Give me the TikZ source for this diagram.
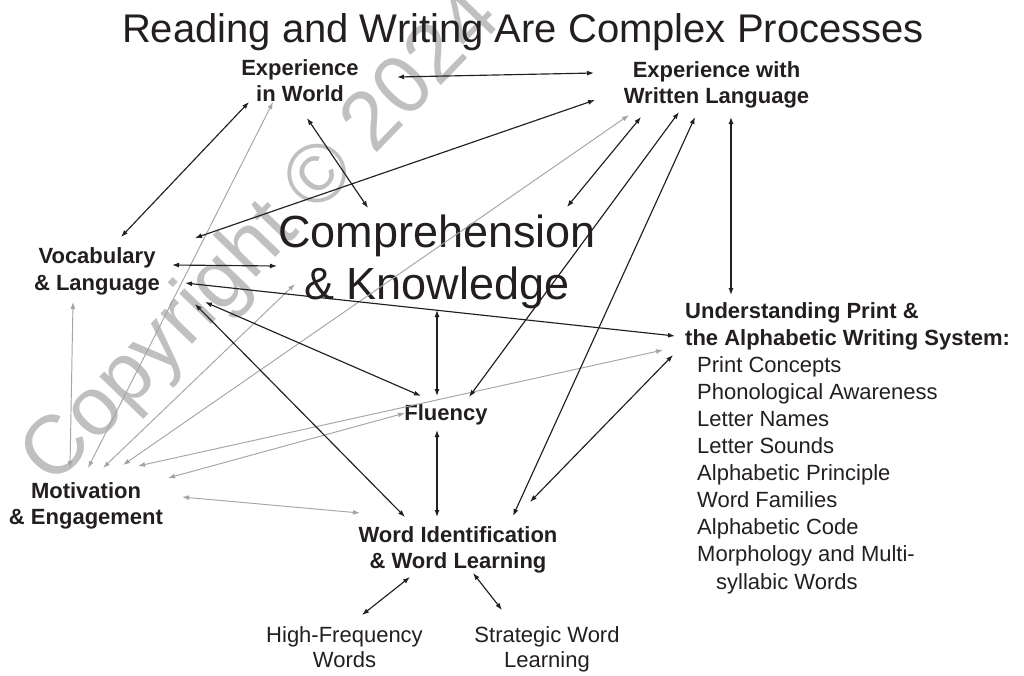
\documentclass[tikz,border=0pt]{standalone}
\usepackage{fontspec}
\setmainfont{Liberation Sans}
\usetikzlibrary{arrows.meta}
\definecolor{ink}{RGB}{35,31,32}
\definecolor{lgray}{RGB}{165,165,165}
\definecolor{wmark}{RGB}{192,192,192}
\begin{document}
\begin{tikzpicture}[x=1pt,y=-1pt,
  tip/.tip={Latex[length=7pt,width=5pt]},
  conn/.style={line width=1.15pt, draw=ink, {tip}-{tip}},
  gconn/.style={line width=0.95pt, draw=lgray, {tip}-{tip}},
  lbl/.style={inner sep=0pt, anchor=base, text=ink, font=\fontsize{22}{26.5}\selectfont\bfseries},
  reg/.style={inner sep=0pt, anchor=base, text=ink, font=\fontsize{22}{25.5}\selectfont},
  big/.style={inner sep=0pt, anchor=base, text=ink, font=\fontsize{45}{52}\selectfont},
  ttl/.style={inner sep=0pt, anchor=base, text=ink, font=\fontsize{40}{48}\selectfont},
  lst/.style={inner sep=0pt, anchor=base west, text=ink, font=\fontsize{22}{27.1}\selectfont}
]
\fill[white] (0,0) rectangle (1024,675);
\useasboundingbox (0,0) rectangle (1024,675);

% watermark
\node[rotate=46, text=wmark, inner sep=0pt, font=\fontsize{83}{96}\selectfont] (wm) at (263,240) {Copyright © 2024};

% labels
\node[ttl] (title) at (523,42) {Reading and Writing Are Complex Processes};
\node[lbl] (ew) at (300,75) {\begin{tabular}[t]{@{}c@{}}Experience\\in World\end{tabular}};
\node[lbl] (ewl) at (716.5,77) {\begin{tabular}[t]{@{}c@{}}Experience with\\Written Language\end{tabular}};
\node[lbl] (voc) at (97,263.5) {\begin{tabular}[t]{@{}c@{}}Vocabulary\\\& Language\end{tabular}};
\node[big] (comp) at (437,247) {\begin{tabular}[t]{@{}c@{}}Comprehension\\\& Knowledge\end{tabular}};
\node[lbl] (flu) at (446,420) {Fluency};
\node[lbl] (mot) at (86,498) {\begin{tabular}[t]{@{}c@{}}Motivation\\\& Engagement\end{tabular}};
\node[lbl] (wid) at (458,542) {\begin{tabular}[t]{@{}c@{}}Word Identification\\\& Word Learning\end{tabular}};
\node[reg] (hf) at (344.5,642) {\begin{tabular}[t]{@{}c@{}}High-Frequency\\Words\end{tabular}};
\node[reg] (sw) at (547,642) {\begin{tabular}[t]{@{}c@{}}Strategic Word\\Learning\end{tabular}};
\node[lst] (up) at (685,318) {\begin{tabular}[t]{@{}l@{}}\textbf{Understanding Print \&}\\
\textbf{the Alphabetic Writing System:}\\
\hspace*{12pt}Print Concepts\\
\hspace*{12pt}Phonological Awareness\\
\hspace*{12pt}Letter Names\\
\hspace*{12pt}Letter Sounds\\
\hspace*{12pt}Alphabetic Principle\\
\hspace*{12pt}Word Families\\
\hspace*{12pt}Alphabetic Code\\
\hspace*{12pt}Morphology and Multi-\\
\hspace*{31pt}syllabic Words\end{tabular}};

% connector end points
\coordinate (ew-ewl) at (397,77);   \coordinate (ewl-ew) at (594,73);
\coordinate (ew-voc) at (249,102);  \coordinate (voc-ew) at (121,237);
\coordinate (ew-comp) at (307,118); \coordinate (comp-ew) at (368,208);
\coordinate (ewl-voc) at (595,100); \coordinate (voc-ewl) at (195,238);
\coordinate (voc-comp) at (172,265); \coordinate (comp-voc) at (277,266);
\coordinate (voc-up) at (185,283);  \coordinate (up-voc) at (675,336);
\coordinate (voc-flu) at (205,302); \coordinate (flu-voc) at (421,396);
\coordinate (voc-wid) at (195,304); \coordinate (wid-voc) at (405,517);
\coordinate (comp-flu) at (437,310); \coordinate (flu-comp) at (437,396);
\coordinate (flu-wid) at (437,430); \coordinate (wid-flu) at (437,517);
\coordinate (ewl-comp) at (641,117); \coordinate (comp-ewl) at (567,207);
\coordinate (ewl-flu) at (679,112); \coordinate (flu-ewl) at (469,397);
\coordinate (ewl-wid) at (695,117); \coordinate (wid-ewl) at (513,516);
\coordinate (ewl-up) at (731,117);  \coordinate (up-ewl) at (731,295);
\coordinate (up-wid) at (673,355);  \coordinate (wid-up) at (530,502);
\coordinate (wid-hf) at (410,577);  \coordinate (hf-wid) at (362,615);
\coordinate (wid-sw) at (473,573);  \coordinate (sw-wid) at (502,610);
\coordinate (voc-mot) at (73,302);  \coordinate (mot-voc) at (70,468);
\coordinate (ew-mot) at (273,102);  \coordinate (mot-ew) at (88,468);
\coordinate (comp-mot) at (295,284); \coordinate (mot-comp) at (103,468);
\coordinate (ewl-mot) at (629,115); \coordinate (mot-ewl) at (123,465);
\coordinate (up-mot) at (663,350);  \coordinate (mot-up) at (138,466);
\coordinate (flu-mot) at (405,413); \coordinate (mot-flu) at (168,478);
\coordinate (wid-mot) at (360,513); \coordinate (mot-wid) at (182,497);

% gray connectors
\draw[gconn] (voc-mot) -- (mot-voc);
\draw[gconn] (ew-mot) -- (mot-ew);
\draw[gconn] (comp-mot) -- (mot-comp);
\draw[gconn] (ewl-mot) -- (mot-ewl);
\draw[gconn] (up-mot) -- (mot-up);
\draw[gconn] (flu-mot) -- (mot-flu);
\draw[gconn] (wid-mot) -- (mot-wid);

% black connectors
\draw[conn] (ew-ewl) -- (ewl-ew);
\draw[conn] (ew-voc) -- (voc-ew);
\draw[conn] (ew-comp) -- (comp-ew);
\draw[conn] (ewl-voc) -- (voc-ewl);
\draw[conn] (voc-comp) -- (comp-voc);
\draw[conn] (voc-up) -- (up-voc);
\draw[conn] (voc-flu) -- (flu-voc);
\draw[conn] (voc-wid) -- (wid-voc);
\draw[conn] (comp-flu) -- (flu-comp);
\draw[conn] (flu-wid) -- (wid-flu);
\draw[conn] (ewl-comp) -- (comp-ewl);
\draw[conn] (ewl-flu) -- (flu-ewl);
\draw[conn] (ewl-wid) -- (wid-ewl);
\draw[conn] (ewl-up) -- (up-ewl);
\draw[conn] (up-wid) -- (wid-up);
\draw[conn] (wid-hf) -- (hf-wid);
\draw[conn] (wid-sw) -- (sw-wid);
\end{tikzpicture}
\end{document}
